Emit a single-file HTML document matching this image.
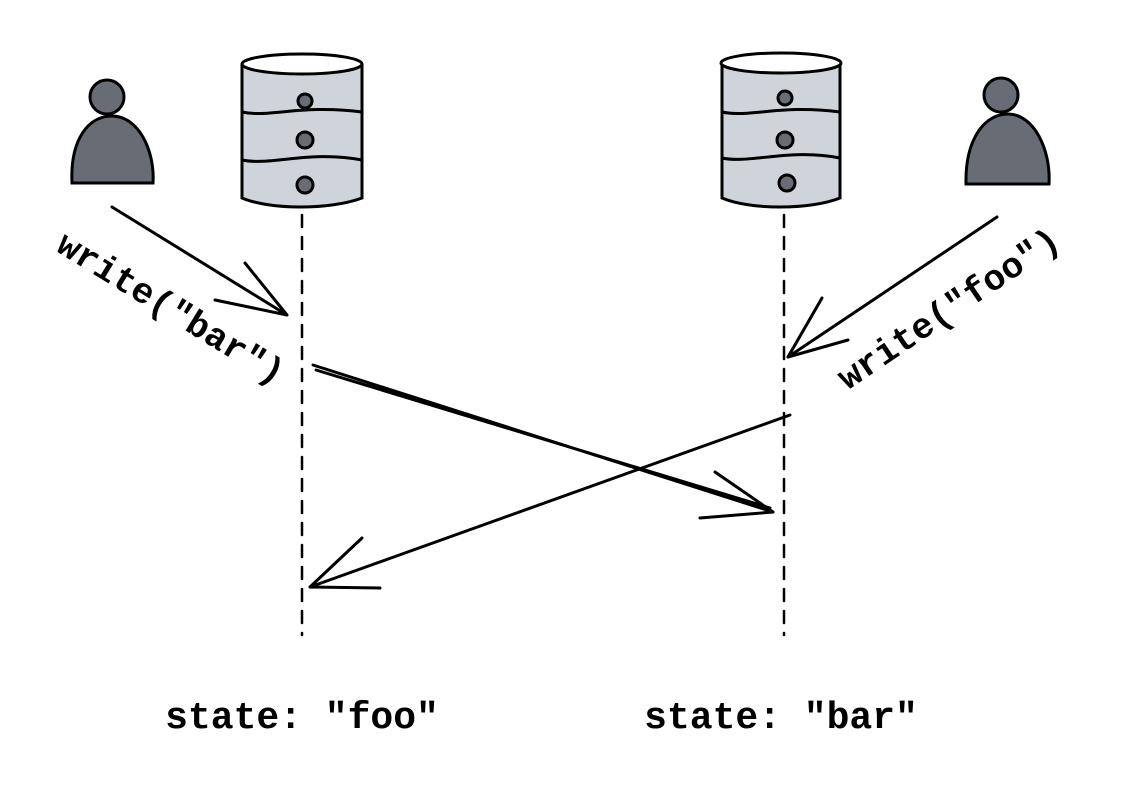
<!DOCTYPE html>
<html><head><style>html,body{margin:0;padding:0;background:#fff}</style></head><body>
<svg width="1132" height="796" viewBox="0 0 1132 796" xmlns="http://www.w3.org/2000/svg">
<rect width="1132" height="796" fill="#fff"/>
<g stroke="#000" stroke-width="3" fill="none" stroke-linecap="round">
<path d="M72,183 C70,140 88,116 112,116 C138,116 155,150 153,183 Z" fill="#686c74"/>
<circle cx="107" cy="97" r="17" fill="#686c74"/>
<path d="M966,184 C965,140 984,114 1008,114 C1034,114 1051,150 1049,184 Z" fill="#686c74"/>
<circle cx="1001" cy="95" r="17" fill="#686c74"/>
<g>
<path d="M242,65 L242,198 C270,210 330,210 362,198 L362,65 Z" fill="#cfd3da"/>
<ellipse cx="302" cy="64" rx="60" ry="10" fill="#fff"/>
<path d="M242,112 C270,118 300,104 362,112"/>
<path d="M242,160 C270,166 310,150 362,160"/>
<circle cx="305" cy="101" r="7" fill="#686c74"/>
<circle cx="305" cy="140" r="8" fill="#686c74"/>
<circle cx="305" cy="185" r="8" fill="#686c74"/>
</g>
<g>
<path d="M722,65 L722,198 C750,210 810,210 840,198 L840,65 Z" fill="#cfd3da"/>
<ellipse cx="781" cy="63" rx="60" ry="10" fill="#fff"/>
<path d="M722,112 C750,118 780,104 840,112"/>
<path d="M722,158 C750,164 790,148 840,158"/>
<circle cx="785" cy="98" r="7" fill="#686c74"/>
<circle cx="785" cy="140" r="8" fill="#686c74"/>
<circle cx="787" cy="183" r="8" fill="#686c74"/>
</g>
<line x1="302" y1="215" x2="302" y2="635" stroke-dasharray="12,10" stroke-width="2.5"/>
<line x1="784" y1="215" x2="784" y2="635" stroke-dasharray="12,10" stroke-width="2.5"/>
<path d="M112,207 L287,315 M287,315 L215,300 M287,315 L245,263"/>
<path d="M997,217 L788,357 M788,357 L848,340 M788,357 L822,298"/>
<path d="M313,365 L773,512 M316,370 L770,508 M773,512 L700,518 M773,512 L715,472"/>
<path d="M790,415 L310,587 M310,587 L362,538 M310,587 L380,588"/>
</g>
<g font-family="Liberation Mono, monospace" font-size="36" font-weight="bold" fill="#000">
<text transform="translate(165,318) rotate(31.5)" text-anchor="middle">write("bar")</text>
<text transform="translate(955,318) rotate(-34)" text-anchor="middle">write("foo")</text>
<text x="302" y="728" font-size="38" text-anchor="middle">state: "foo"</text>
<text x="781" y="728" font-size="38" text-anchor="middle">state: "bar"</text>
</g>
</svg>
</body></html>
